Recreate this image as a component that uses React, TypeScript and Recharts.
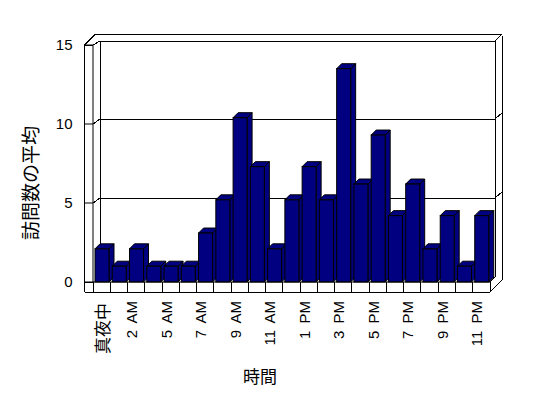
import React from 'react';
import { BarChart, Bar, XAxis, YAxis, Customized } from 'recharts';

// ---- data ----
const hourLabels = [
  '真夜中', '1 AM', '2 AM', '3 AM', '5 AM', '6 AM', '7 AM', '8 AM', '9 AM', '10 AM', '11 AM', '12 PM',
  '1 PM', '2 PM', '3 PM', '4 PM', '5 PM', '6 PM', '7 PM', '8 PM', '9 PM', '10 PM', '11 PM',
];
const avgVisits = [
  2.1, 1.0, 2.1, 1.0, 1.0, 1.0, 3.1, 5.2, 10.4, 7.3, 2.1, 5.2,
  7.3, 5.2, 13.5, 6.2, 9.3, 4.2, 6.2, 2.1, 4.2, 1.0, 4.2,
];
const yTicks = [0, 5, 10, 15];
const gridValues = [5, 10];
const yTitle = '訪問数の平均';
const xTitle = '時間';

const data = hourLabels.map((h, i) => ({ hour: h, visits: avgVisits[i] }));

// ---- layout ----
const W = 548;
const H = 398;
const Y_AXIS_W = 60;
const X_AXIS_H = 70;
const M = { top: 45, right: 58, bottom: 46, left: 33 };
const PL = M.left + Y_AXIS_W; // plot left (front plane)
const PR = W - M.right; // plot right
const PT = M.top;
const PB = H - M.bottom - X_AXIS_H;
const YMAX = 15;
const BACK_DX = 7;
const BACK_DY = -5;
const BAR_D = 5;
const FLOOR_T = 10;
const WALL_T = 8.5;
const NAVY = '#000080';
const LATIN = '"Liberation Sans", Arial, sans-serif';
const CJK = '"Noto Sans CJK JP", sans-serif';

const yPix = (v: number) => PB - ((PB - PT) * v) / YMAX;

function Box3D() {
  const bl = PL + BACK_DX;
  const br = PR + 5;
  const bt = PT - 4;
  const bb = PB + BACK_DY;
  const ol = PL - WALL_T;
  const ot = PT - 10.5;
  const otl = ol + 10.5;
  const orr = PR + 12;
  const n = hourLabels.length;
  const cw = (PR - PL) / n;
  const ln = { stroke: '#000', strokeWidth: 1, shapeRendering: 'crispEdges' as const };
  const dividers = [];
  for (let k = 0; k <= n; k++) {
    const x = PL + k * cw;
    dividers.push(<line key={'d' + k} x1={x} y1={PB} x2={x} y2={PB + FLOOR_T} {...ln} />);
  }
  return (
    <g>
      <rect x={bl} y={bt} width={br - bl} height={bb - bt} fill="#fff" />
      {/* back wall inner surface */}
      <line x1={bl} y1={bt} x2={br} y2={bt} {...ln} />
      <line x1={bl} y1={bt} x2={bl} y2={bb} {...ln} />
      <line x1={br} y1={bt} x2={br} y2={bb} {...ln} />
      <line x1={bl} y1={bb} x2={br} y2={bb} {...ln} />
      {/* top outer edges */}
      <line x1={otl} y1={ot} x2={orr - 0.5} y2={ot} {...ln} />
      <line x1={ol} y1={PT} x2={otl} y2={ot} {...ln} />
      <line x1={PL} y1={PT} x2={bl} y2={bt} {...ln} />
      <line x1={br} y1={bt} x2={orr - 0.5} y2={ot} {...ln} />
      <line x1={orr} y1={ot + 1} x2={orr} y2={PB - 2} {...ln} />
      {/* left wall front */}
      <line x1={ol} y1={PT} x2={ol} y2={PB + FLOOR_T} {...ln} />
      <line x1={ol} y1={PT} x2={PL} y2={PT} {...ln} />
      {/* floor */}
      <line x1={ol} y1={PB + FLOOR_T} x2={PR} y2={PB + FLOOR_T} {...ln} />
      <line x1={ol} y1={PB} x2={PL} y2={PB} {...ln} />
      <line x1={PR} y1={PB + FLOOR_T} x2={orr} y2={PB - 2} {...ln} />
      <line x1={PR} y1={PB} x2={br} y2={bb} {...ln} />
      {dividers}
      {/* gridlines */}
      {gridValues.map((v) => {
        const yf = yPix(v);
        const yb = yf + BACK_DY;
        return (
          <g key={'g' + v}>
            <line x1={bl} y1={yb} x2={br} y2={yb} {...ln} />
            <line x1={PL} y1={yf} x2={bl} y2={yb} {...ln} />
            <line x1={br} y1={yb} x2={orr} y2={yb - 6} {...ln} />
          </g>
        );
      })}
      {/* titles */}
      <text
        transform={`translate(29,183) rotate(-90)`}
        textAnchor="middle"
        dominantBaseline="central"
        fontSize={19}
        fontFamily={CJK}
        fill="#000"
      >
        {yTitle}
      </text>
      <text x={260} y={375} textAnchor="middle" dominantBaseline="central" fontSize={17} fontFamily={CJK} fill="#000">
        {xTitle}
      </text>
    </g>
  );
}

function Bar3D(props: any) {
  const { x, y, width, height } = props;
  if (height == null || isNaN(height)) return null;
  const fx = x + 0.6;
  const d = BAR_D;
  return (
    <g stroke="#000" strokeWidth={1} fill={NAVY} strokeLinejoin="miter">
      <polygon
        points={`${fx + width},${y} ${fx + width + d},${y - d} ${fx + width + d},${y + height - d} ${fx + width},${y + height}`}
      />
      <polygon points={`${fx},${y} ${fx + d},${y - d} ${fx + width + d},${y - d} ${fx + width},${y}`} />
      <rect x={fx} y={y} width={width} height={height} />
    </g>
  );
}

function XTick(props: any) {
  const { x, payload } = props;
  const label = String(payload.value);
  const cjk = /[^\x00-\x7f]/.test(label);
  return (
    <text
      transform={`translate(${x + (cjk ? 7 : 1)},${PB + (cjk ? 21 : 19)}) rotate(-90)`}
      textAnchor="end"
      fontSize={cjk ? 17 : 15}
      fontFamily={cjk ? CJK : LATIN}
      fill="#000"
      style={cjk ? undefined : { wordSpacing: '3px' }}
    >
      {label}
    </text>
  );
}

export default function App() {
  return (
    <div style={{ width: W, height: H, background: '#fff' }}>
      <style>{'body{margin:0;background:#fff}'}</style>
      <BarChart width={W} height={H} data={data} margin={M} barCategoryGap={1.4}>
        <Customized component={<Box3D />} />
        <XAxis
          dataKey="hour"
          height={X_AXIS_H}
          interval={1}
          tickLine={false}
          axisLine={{ stroke: '#000' }}
          tick={<XTick />}
        />
        <YAxis
          width={Y_AXIS_W}
          domain={[0, YMAX]}
          ticks={yTicks}
          interval={0}
          tickSize={8.5}
          tickMargin={12}
          axisLine={{ stroke: '#000' }}
          tickLine={{ stroke: '#000' }}
          tick={{ fill: '#000', fontSize: 15, fontFamily: LATIN }}
        />
        <Bar dataKey="visits" isAnimationActive={false} shape={<Bar3D />} />
      </BarChart>
    </div>
  );
}
